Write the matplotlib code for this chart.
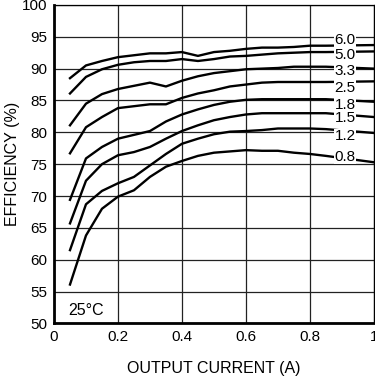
import matplotlib
import numpy as np

matplotlib.use("Agg")

from matplotlib import pyplot as plt  # noqa: E402

current = [0.05, 0.10, 0.15, 0.20, 0.25, 0.30, 0.35, 0.40, 0.45,
           0.50, 0.55, 0.60, 0.65, 0.70, 0.75, 0.80, 0.85, 1.00]

eff_6v0 = [88.5, 90.5, 91.2, 91.8, 92.1, 92.4, 92.4, 92.6, 92.0,
           92.6, 92.8, 93.1, 93.3, 93.3, 93.4, 93.6, 93.6, 93.7]
eff_5v0 = [86.1, 88.7, 89.9, 90.6, 91.0, 91.2, 91.2, 91.5, 91.2,
           91.5, 91.9, 92.0, 92.2, 92.4, 92.5, 92.6, 92.6, 92.7]
eff_3v3 = [81.1, 84.5, 86.0, 86.8, 87.3, 87.8, 87.2, 88.1, 88.8,
           89.3, 89.6, 89.9, 90.0, 90.1, 90.3, 90.3, 90.3, 90.0]
eff_2v5 = [76.7, 80.8, 82.4, 83.8, 84.1, 84.4, 84.4, 85.4, 86.1,
           86.6, 87.2, 87.5, 87.8, 87.9, 87.9, 87.9, 87.9, 88.0]
eff_1v8 = [69.4, 75.9, 77.7, 79.0, 79.6, 80.2, 81.7, 82.8, 83.6,
           84.3, 84.8, 85.1, 85.2, 85.2, 85.2, 85.2, 85.2, 84.8]
eff_1v5 = [65.7, 72.4, 75.0, 76.4, 76.9, 77.7, 79.0, 80.2, 81.1,
           81.9, 82.4, 82.8, 83.0, 83.0, 83.0, 83.0, 83.0, 82.4]
eff_1v2 = [61.5, 68.7, 70.8, 72.0, 73.0, 74.8, 76.6, 78.2, 79.0,
           79.7, 80.1, 80.2, 80.35, 80.6, 80.6, 80.6, 80.5, 79.9]
eff_0v8 = [56.1, 63.8, 68.0, 69.9, 70.9, 73.0, 74.6, 75.5, 76.3,
           76.8, 77.0, 77.2, 77.1, 77.1, 76.8, 76.6, 76.3, 75.3]

series = [eff_6v0, eff_5v0, eff_3v3, eff_2v5, eff_1v8, eff_1v5, eff_1v2, eff_0v8]
labels = ["6.0", "5.0", "3.3", "2.5", "1.8", "1.5", "1.2", "0.8"]
label_y = [94.5, 92.1, 89.6, 87.0, 84.3, 82.2, 79.4, 76.1]

x_ticks = [0, 0.2, 0.4, 0.6, 0.8, 1.0]
x_tick_labels = ["0", "0.2", "0.4", "0.6", "0.8", "1"]
y_ticks = np.arange(50, 101, 5)

plt.rcParams["font.family"] = ["Liberation Sans", "DejaVu Sans"]

figure = plt.figure(figsize=(3.75, 3.8), dpi=100)
axis = figure.add_axes([0.144, 0.149, 0.853, 0.838])

for values in series:
    axis.plot(current, values, color="black", linewidth=1.7, zorder=3)

# voltage labels sit on the curves with a white box cutting the line
for text, y in zip(labels, label_y):
    axis.text(0.91, y, text, fontsize=11, ha="center", va="center", zorder=4,
              bbox=dict(facecolor="white", edgecolor="none", pad=0.2))

axis.text(0.043, 52.1, "25°C", fontsize=11.5, ha="left", va="center")

axis.set_xlim(0, 1)
axis.set_ylim(50, 100)
axis.set_xticks(x_ticks)
axis.set_xticklabels(x_tick_labels)
axis.set_yticks(y_ticks)
axis.tick_params(axis="x", length=0, labelsize=11, pad=5)
axis.tick_params(axis="y", length=0, labelsize=11, pad=5)
axis.grid(True, color="#222222", linewidth=0.9)
axis.set_axisbelow(True)

for side in ("left", "bottom"):
    axis.spines[side].set_linewidth(2)
for side in ("top", "right"):
    axis.spines[side].set_linewidth(0.9)

axis.set_xlabel("OUTPUT CURRENT (A)", fontsize=11.5, labelpad=12)
axis.set_ylabel("EFFICIENCY (%)", fontsize=11.5, labelpad=1)

figure.savefig("out.png", dpi=100)
plt.close(figure)
